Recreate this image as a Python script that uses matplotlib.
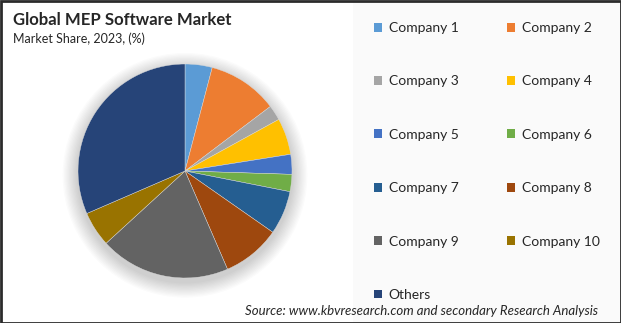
"""
Global MEP Software Market - pie chart with legend.
"""

import matplotlib.pyplot as plt
from matplotlib.patches import Rectangle, Patch, Circle

companies = ["Company 1", "Company 2", "Company 3", "Company 4", "Company 5",
             "Company 6", "Company 7", "Company 8", "Company 9", "Company 10",
             "Others"]
shares = [4.1, 10.6, 2.3, 5.5, 3.0, 2.6, 6.6, 8.8, 19.7, 5.3, 31.5]
colors = ["#5B9BD5", "#ED7D31", "#A5A5A5", "#FFC000", "#4472C4", "#70AD47",
          "#255E91", "#9E480E", "#636363", "#997300", "#264478"]

plt.rcParams["font.family"] = ["Lato", "DejaVu Sans"]

W, H = 621, 323
fig = plt.figure(figsize=(W / 100, H / 100), dpi=100)
fig.patch.set_facecolor("white")

# fondo gris claro de la zona de leyenda
fig.patches.append(Rectangle((353 / W, 0), (W - 353) / W, 1, transform=fig.transFigure,
                             facecolor="#FAFAFA", edgecolor="none", zorder=0))
# marco
fig.patches.append(Rectangle((0.5 / W, 0.5 / H), 1 - 1 / W, 1 - 1 / H, transform=fig.transFigure,
                             facecolor="none", edgecolor="#2b2b2b", linewidth=2.0, zorder=10))

# Pie
cx, cy, r = 185, 171, 107
pad = 20
ax = fig.add_axes([(cx - r - pad) / W, (H - cy - r - pad) / H, 2 * (r + pad) / W, 2 * (r + pad) / H])
ax.set_facecolor("none")

# sombra difusa
for k in range(12):
    ax.add_patch(Circle((0.0, -0.04), 1.0 + 0.012 * (12 - k), facecolor="black",
                        alpha=0.014, edgecolor="none", zorder=0))

wedges, _ = ax.pie(shares, colors=colors, startangle=90, counterclock=False,
                   radius=1.0, wedgeprops={"linewidth": 0.3, "edgecolor": "#dddddd"})
lim = (r + pad) / r
ax.set_xlim(-lim, lim)
ax.set_ylim(-lim, lim)
ax.set_aspect("equal")
ax.axis("off")

# Títulos
fig.text(13 / W, 1 - 20 / H, "Global MEP Software Market", fontsize=12.1, fontweight="bold",
         color="#262626", va="center", ha="left")
fig.text(13 / W, 1 - 39 / H, "Market Share, 2023, (%)", fontsize=9, color="#262626",
         va="center", ha="left")

# Leyenda (orden por filas: C1 C2 / C3 C4 / ...)
order = [0, 2, 4, 6, 8, 10, 1, 3, 5, 7, 9]
handles = [Patch(facecolor=colors[i], edgecolor="none") for i in order]
labels = [companies[i] for i in order]
fig.legend(handles, labels, ncol=2, loc="upper left", bbox_to_anchor=(374 / W, 1 - 22 / H),
           frameon=False, fontsize=10, labelcolor="#262626", handlelength=0.6,
           handleheight=0.6, handletextpad=0.45, labelspacing=2.98, columnspacing=3.5,
           borderpad=0, borderaxespad=0)

fig.text(598 / W, 1 - 311 / H, "Source: www.kbvresearch.com and secondary Research Analysis",
         fontsize=9.5, style="italic", color="#262626", ha="right", va="center")

fig.savefig("out.png", dpi=100)
